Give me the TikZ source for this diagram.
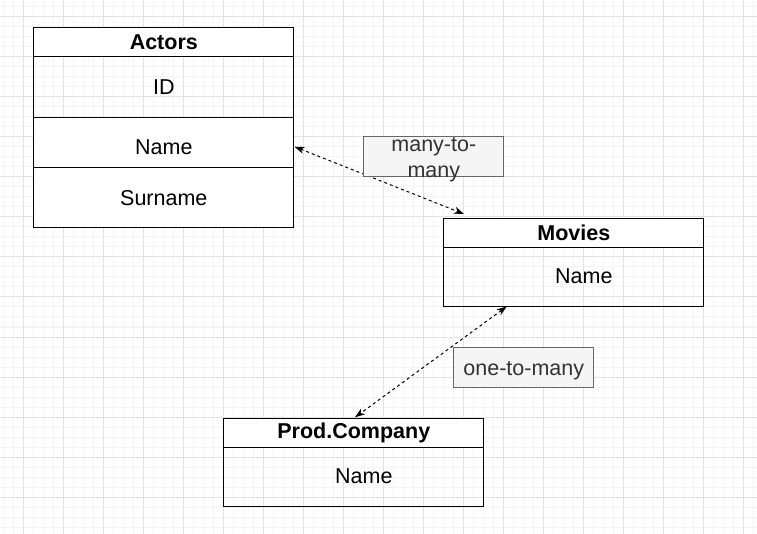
\documentclass[tikz,border=0pt]{standalone}
\usepackage{fontspec}
\setmainfont{Liberation Sans}
\usetikzlibrary{arrows.meta}
\definecolor{gridmajor}{HTML}{E2E2E2}
\definecolor{gridminor}{HTML}{F4F4F4}
\definecolor{lblfill}{HTML}{F5F5F5}
\definecolor{lbldraw}{HTML}{666666}
\definecolor{lbltext}{HTML}{333333}
\begin{document}
\begin{tikzpicture}[x=1pt,y=-1pt,
  cell/.style={draw=black, line width=1pt, anchor=north west, minimum width=260pt, inner sep=0pt, font=\fontsize{21.5}{25}\selectfont},
  headcell/.style={cell, fill=white, font=\fontsize{21.5}{25}\selectfont\bfseries},
  fieldtext/.style={inner sep=0pt, font=\fontsize{21.5}{25}\selectfont},
  relbox/.style={draw=lbldraw, fill=lblfill, line width=1pt, minimum width=140pt, minimum height=40pt, inner sep=0pt, anchor=north west},
  reltext/.style={inner sep=0pt, text=lbltext, align=center, font=\fontsize{21.5}{26}\selectfont},
  rel/.style={draw=black, line width=1pt, dash pattern=on 3pt off 3pt, {Stealth[length=10pt,width=7pt,inset=3pt]}-{Stealth[length=10pt,width=7pt,inset=3pt]}}
]
\useasboundingbox (0,0) rectangle (757,534);
\fill[white] (0,0) rectangle (757,534);
% grid
\foreach \x in {3,13,...,753} \draw[gridminor, line width=1pt] (\x,0) -- (\x,534);
\foreach \y in {7,17,...,527} \draw[gridminor, line width=1pt] (0,\y) -- (757,\y);
\foreach \x in {23,63,...,743} \draw[gridmajor, line width=1pt] (\x,0) -- (\x,534);
\foreach \y in {17,57,...,497} \draw[gridmajor, line width=1pt] (0,\y) -- (757,\y);

% Actors
\node[headcell, minimum height=28.7pt] (actors) at (33.3,27.3) {Actors};
\node[cell, minimum height=60.7pt] (actorsID) at (33.3,56) {ID};
\node[cell, fill=white, minimum height=50.3pt] (actorsName) at (33.3,116.7) {};
\node[fieldtext, yshift=-4.5pt] (actorsNameText) at (actorsName.center) {Name};
\node[cell, fill=white, minimum height=60.3pt] (actorsSurname) at (33.3,167) {Surname};

% Movies
\node[headcell, minimum height=29pt] (movies) at (443.3,217.7) {Movies};
\node[cell, minimum height=59pt] (moviesBody) at (443.3,246.7) {};
\node[fieldtext, xshift=10pt] (moviesName) at (moviesBody.center) {Name};

% Prod.Company
\node[headcell, minimum height=29pt] (prod) at (223.3,417.7) {Prod.Company};
\node[cell, minimum height=59pt] (prodBody) at (223.3,446.7) {};
\node[fieldtext, xshift=10pt] (prodName) at (prodBody.center) {Name};

% connector ends
\coordinate (aEnd) at (294.5,146.7);
\coordinate (mTop) at (464,214);
\coordinate (mBot) at (506.7,306.5);
\coordinate (pTop) at (355,417.3);

\draw[rel] (aEnd) -- (mTop);
\draw[rel] (mBot) -- (pTop);

% relation labels
\node[relbox] (rel1) at (363.3,136) {};
\node[reltext] (rel1text) at ([yshift=-3pt]rel1.center) {many-to-\\many};
\node[relbox] (rel2) at (453.3,347.3) {};
\node[reltext] (rel2text) at ([yshift=-2.5pt]rel2.center) {one-to-many};
\end{tikzpicture}
\end{document}
